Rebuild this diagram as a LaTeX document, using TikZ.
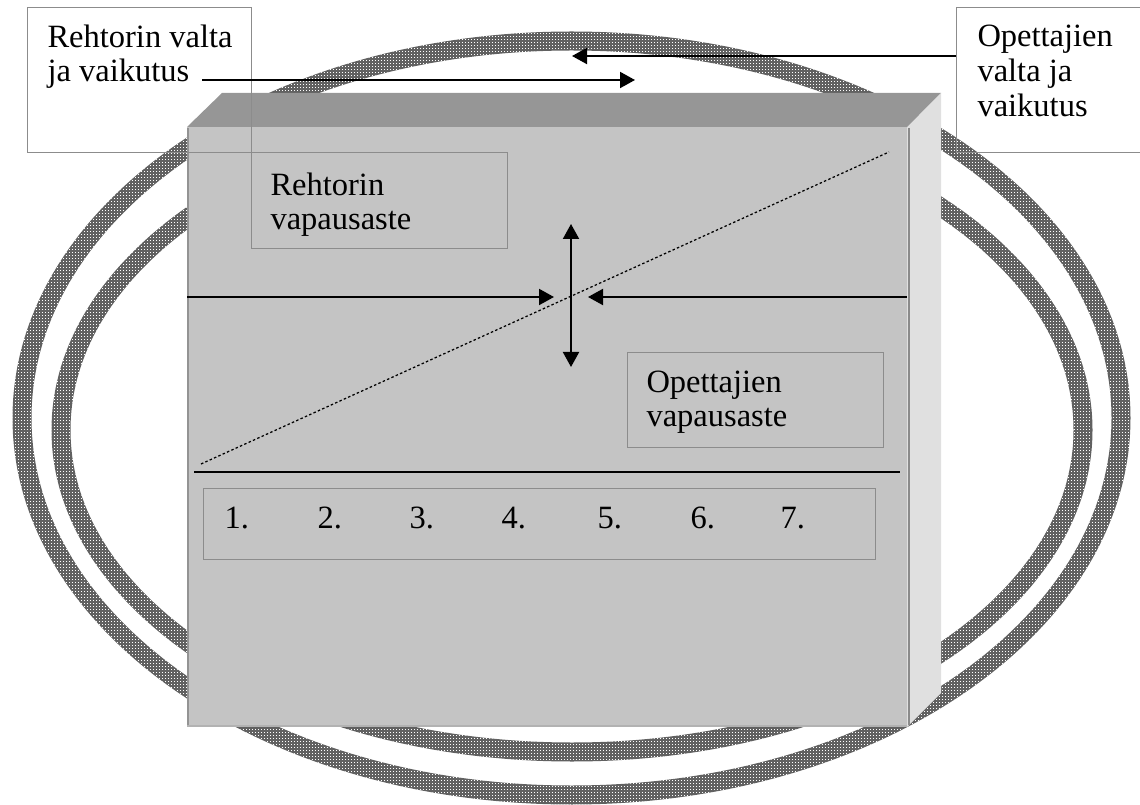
\documentclass[tikz,border=0pt]{standalone}
\usepackage{fontspec}
\setmainfont{Liberation Serif}
\usetikzlibrary{arrows.meta,patterns}
\def\pxu{0.4pt}
% fine dot raster used for the two rings
\pgfdeclarepatternformonly{ringdots}{\pgfqpoint{-0.1pt}{-0.1pt}}{\pgfqpoint{1.3pt}{1.3pt}}{\pgfqpoint{1.2pt}{1.2pt}}{%
  \pgfpathrectangle{\pgfqpoint{0pt}{0pt}}{\pgfqpoint{0.55pt}{0.55pt}}\pgfusepath{fill}}
\definecolor{frontgray}{gray}{0.77}
\definecolor{topgray}{gray}{0.59}
\definecolor{sidegray}{gray}{0.88}
\definecolor{ringgray}{gray}{0.38}
\definecolor{boxline}{gray}{0.55}
\tikzset{
  ring/.style={fill=ringgray, even odd rule,
    postaction={pattern=ringdots, pattern color=white, even odd rule}},
  tbox/.style={draw=boxline, line width=0.5pt, inner sep=0pt, anchor=north west},
  lbl/.style={inner sep=0pt, anchor=base west, font=\fontsize{13}{15}\selectfont},
  arr/.style={line width=0.8pt, -{Triangle[length=6pt,width=6.4pt]}},
  dblarr/.style={line width=0.8pt, {Triangle[length=6pt,width=6.4pt]}-{Triangle[length=6pt,width=6.4pt]}},
  plain/.style={line width=0.8pt},
  diag/.style={line width=0.5pt, dash pattern=on 1pt off 0.9pt}
}
\begin{document}
\begin{tikzpicture}[x=0.4pt, y=-0.4pt]
\useasboundingbox (0,0) rectangle (1140,805);
\clip (0,0) rectangle (1140,805);

% the two rings around the block
\path[ring] (571.5,418) ellipse [x radius=559, y radius=386.5]
            (571.5,418) ellipse [x radius=540, y radius=367.5];
\path[ring] (572,430) ellipse [x radius=520.5, y radius=331.5]
            (572,430) ellipse [x radius=501.5, y radius=312.5];

% the block: front, top and side faces
\fill[frontgray] (187,127) rectangle (907,727);
\fill[topgray] (187,127) -- (222,93) -- (941,93) -- (907,127) -- cycle;
\fill[sidegray] (907,127) -- (941,93) -- (941,693) -- (907,727) -- cycle;
\draw[gray!85, line width=0.8pt] (188,128) -- (188,726);
\draw[gray!92, line width=0.8pt] (909,128) -- (909,725);
\draw[black!30, line width=0.5pt] (187,726) -- (907,726);

% labels of power and influence
\node[tbox, minimum width=224*\pxu, minimum height=145*\pxu] (rbox) at (27,7) {};
\node[tbox, minimum width=220*\pxu, minimum height=145*\pxu] (obox) at (956,7) {};
\node[lbl] (r1) at (47,48) {Rehtorin valta};
\node[lbl] (r2) at (47,82) {ja vaikutus};
\node[lbl] (o1) at (977,47) {Opettajien};
\node[lbl] (o2) at (977,82) {valta ja};
\node[lbl] (o3) at (977,117) {vaikutus};

\coordinate (rstart) at (202,80);
\coordinate (rtip) at (635,80);
\coordinate (ostart) at (956,56);
\coordinate (otip) at (572,56);
\draw[arr] (rstart) -- (rtip);
\draw[arr] (ostart) -- (otip);

% degrees of freedom
\node[tbox, minimum width=256*\pxu, minimum height=96*\pxu] (rvbox) at (251,152) {};
\node[lbl] (rv1) at (270,196) {Rehtorin};
\node[lbl] (rv2) at (270,230) {vapausaste};
\node[tbox, minimum width=256*\pxu, minimum height=95*\pxu] (ovbox) at (627,352) {};
\node[lbl] (ov1) at (646,393) {Opettajien};
\node[lbl] (ov2) at (646,427) {vapausaste};

\coordinate (dlo) at (201,464);
\coordinate (dhi) at (889,152);
\draw[diag] (dlo) -- (dhi);

\coordinate (hl) at (187,297);
\coordinate (hltip) at (554,297);
\coordinate (hr) at (907,297);
\coordinate (hrtip) at (588,297);
\coordinate (vtop) at (571,224);
\coordinate (vbot) at (571,367);
\draw[arr] (hl) -- (hltip);
\draw[arr] (hr) -- (hrtip);
\draw[dblarr] (vtop) -- (vbot);

% scale
\coordinate (sl) at (194,472);
\coordinate (sr) at (900,472);
\draw[plain] (sl) -- (sr);
\node[tbox, minimum width=672*\pxu, minimum height=71*\pxu] (nbox) at (203,488) {};
\node[lbl] (n1) at (224,528) {1.};
\node[lbl] (n2) at (317,528) {2.};
\node[lbl] (n3) at (409,528) {3.};
\node[lbl] (n4) at (501,528) {4.};
\node[lbl] (n5) at (597,528) {5.};
\node[lbl] (n6) at (690,528) {6.};
\node[lbl] (n7) at (780,528) {7.};
\end{tikzpicture}
\end{document}
